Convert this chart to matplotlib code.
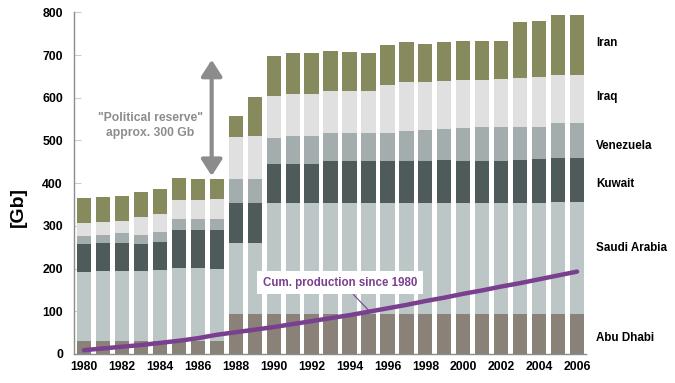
import matplotlib
matplotlib.use("Agg")
import matplotlib.pyplot as plt
import numpy as np
from matplotlib.patches import FancyArrowPatch
import matplotlib.transforms as mtransforms

plt.rcParams['font.family'] = ['Liberation Sans', 'DejaVu Sans']

years = list(range(1980, 2007))
abu_dhabi = [30, 30, 31, 30, 30, 31, 31, 31, 93, 93, 93, 93, 93, 93, 93, 93, 93, 93, 93, 93, 93, 93, 93, 93, 93, 93, 93]
saudi_arabia = [163, 165, 164, 164, 167, 170, 170, 167, 168, 168, 260, 260, 261, 261, 261, 261, 261, 261, 261, 261, 261, 261, 261, 261, 261, 264, 264]
kuwait = [65, 66, 66, 64, 65, 90, 90, 93, 92, 92, 93, 93, 92, 97, 97, 97, 97, 97, 97, 100, 97, 97, 97, 100, 102, 103, 103]
venezuela = [18, 18, 22, 21, 24, 25, 25, 25, 56, 57, 59, 64, 64, 66, 66, 66, 67, 72, 74, 74, 78, 80, 80, 77, 76, 80, 80]
iraq = [31, 31, 28, 42, 43, 45, 44, 47, 99, 100, 99, 100, 100, 100, 100, 100, 111, 113, 111, 111, 112, 110, 112, 115, 116, 114, 114]
iran = [59, 58, 58, 58, 57, 52, 49, 48, 50, 93, 95, 94, 94, 93, 90, 88, 94, 95, 91, 91, 91, 91, 91, 131, 133, 139, 139]
cum_production = [9, 13, 17, 21, 26, 31, 37, 45, 51, 57, 63, 70, 77, 84, 91, 99, 107, 115, 124, 132, 141, 149, 158, 166, 175, 184, 193]

series = [
    ("Abu Dhabi", abu_dhabi, "#8a8178"),
    ("Saudi Arabia", saudi_arabia, "#bcc6c7"),
    ("Kuwait", kuwait, "#4f5a5b"),
    ("Venezuela", venezuela, "#a3adae"),
    ("Iraq", iraq, "#e0e0e0"),
    ("Iran", iran, "#878a5c"),
]
label_y = {"Iran": 728, "Iraq": 603, "Venezuela": 487, "Kuwait": 398,
           "Saudi Arabia": 248, "Abu Dhabi": 37}

fig = plt.figure(figsize=(6.75, 3.83), dpi=100)
ax = fig.add_axes([74/675, 1-354/383, 512/675, (354-12.4)/383])

x = np.arange(len(years))
bottom = np.zeros(len(years))
for name, vals, col in series:
    ax.bar(x, vals, bottom=bottom, width=0.75, color=col, edgecolor='none', zorder=2)
    bottom += np.array(vals)

ax.plot(x, cum_production, color="#7a3f8e", lw=3.2, solid_capstyle='round', zorder=4)

ax.set_xlim(-0.53, 26.47)
ax.set_ylim(0, 800)
ax.set_yticks(range(0, 801, 100))
ax.set_xticks(x[::2])
ax.set_xticklabels([str(y) for y in years[::2]])
for lab in ax.get_xticklabels() + ax.get_yticklabels():
    lab.set_fontweight('bold')
    lab.set_fontsize(8.8)
ax.tick_params(axis='y', direction='in', length=5, color='#cccccc', pad=8)
ax.tick_params(axis='x', length=0, pad=5)
for s in ['top', 'right']:
    ax.spines[s].set_visible(False)
for s in ['left', 'bottom']:
    ax.spines[s].set_color('#8c8c8c')
    ax.spines[s].set_linewidth(1.0)

fig.text(18/675, 1-207/383, "[Gb]", rotation=90, fontsize=14, fontweight='bold',
         ha='center', va='center')

trans = mtransforms.blended_transform_factory(ax.transAxes, ax.transData)
for name, vals, col in series:
    ax.text(1.02, label_y[name], name, transform=trans, fontsize=8.4,
            fontweight='bold', ha='left', va='center', clip_on=False)

arrow = FancyArrowPatch((6.73, 417), (6.73, 689), arrowstyle='<|-|>,head_length=0.7,head_width=0.45',
                        mutation_scale=14, color='#8c8c8c', lw=3, zorder=5, shrinkA=0, shrinkB=0)
ax.add_patch(arrow)
ax.text(3.48, 552, '"Political reserve"', color='#8c8c8c', fontsize=8.7,
        fontweight='bold', ha='center', va='center')
ax.text(3.48, 517, 'approx. 300 Gb', color='#8c8c8c', fontsize=8.7,
        fontweight='bold', ha='center', va='center')

ax.annotate("Cum. production since 1980", xy=(15.08, 99), xytext=(13.5, 167),
            color="#7a3f8e", fontsize=8.3, fontweight='bold', ha='center', va='center',
            bbox=dict(boxstyle='square,pad=0.5', fc='white', ec='none'),
            arrowprops=dict(arrowstyle='-', color="#7a3f8e", lw=0.8, relpos=(0.55, 0.0),
                            shrinkA=0, shrinkB=0),
            zorder=6)

fig.savefig("out.png", dpi=100)
